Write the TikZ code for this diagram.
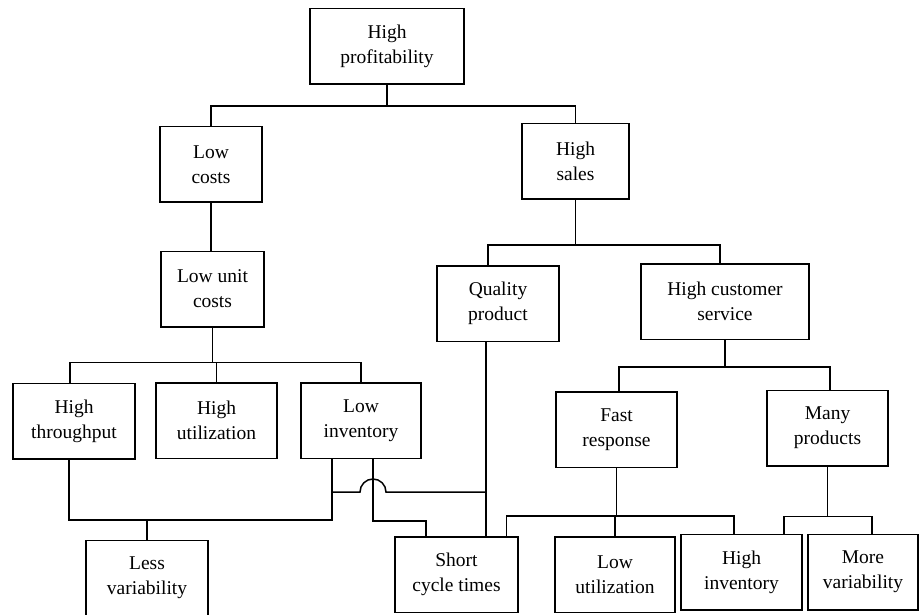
\documentclass[tikz,border=0pt]{standalone}
\usepackage{fontspec}
\setmainfont{Liberation Serif}
\begin{document}
\begin{tikzpicture}[x=1pt, y=-1pt, line width=1.5pt,
	box/.style={draw, align=center, inner sep=0pt, minimum width=#1, minimum height=75.5pt},
	box/.default=121pt,
	font=\fontsize{19.5}{25}\selectfont]
\useasboundingbox (0,0) rectangle (919,615);

\node [box=154pt] (prof)     at (387,46.5)   {High\\profitability};
\node [box=102pt] (lowcost)  at (211,164.5)  {Low\\costs};
\node [box=107pt] (sales)    at (575.5,161.5) {High\\sales};
\node [box=103pt] (unitcost) at (212.5,289)  {Low unit\\costs};
\node [box=122pt] (thru)     at (74,421)     {High\\throughput};
\node [box]       (util)     at (216.5,420.5) {High\\utilization};
\node [box=120pt] (lowinv)   at (361,420.5)  {Low\\inventory};
\node [box=122pt] (lessvar)  at (147,578)    {Less\\variability};
\node [box=122pt] (quality)  at (498,303.5)  {Quality\\product};
\node [box=168pt] (service)  at (725,301.5)  {High customer\\service};
\node [box]       (fast)     at (616.5,429.5) {Fast\\response};
\node [box]       (many)     at (827.5,428)  {Many\\products};
\node [box=123pt] (short)    at (456.5,574.5) {Short\\cycle times};
\node [box=120pt] (lowutil)  at (615,574.5)  {Low\\utilization};
\node [box]       (hiinv)    at (741.5,572)  {High\\inventory};
\node [box=110pt] (morevar)  at (863,572)    {More\\variability};

\draw (prof.south) -- ++(0,21) coordinate (top);
\draw (lowcost.north) |- (top) -| (sales.north);
\draw (lowcost.south) -- (lowcost.south |- unitcost.north);

\draw (unitcost.south) -- ++(0,35) coordinate (cost);
\draw ([xshift=-4pt]thru.north) |- (cost) -| (lowinv.north);
\draw (util.north) -- (util.north |- cost);

\draw (sales.south) -- ++(0,45) coordinate (sell);
\draw ([xshift=-10pt]quality.north) |- (sell) -| ([xshift=-5pt]service.north);

\draw (service.south) -- ++(0,27) coordinate (serv);
\draw ([xshift=2.5pt]fast.north) |- (serv) -| ([xshift=2.5pt]many.north);

\draw (fast.south) -- ++(0,48) coordinate (resp);
\draw ([xshift=50pt]short.north) |- (resp) -| ([xshift=-7.5pt]hiinv.north);
\draw (lowutil.north) -- (lowutil.north |- resp);

\draw (many.south) -- ++(0,50) coordinate (prod);
\draw ([xshift=42.5pt]hiinv.north) |- (prod) -| ([xshift=9pt]morevar.north);

\coordinate (mix) at (147,520);
\coordinate (hop) at (0,492);
\draw ([xshift=-12pt]quality.south) -- ([xshift=-12pt]quality.south |- short.north);
\coordinate (join) at ([xshift=-12pt]quality.south |- hop);
\draw ([xshift=-5pt]thru.south) |- (mix) -| ([xshift=-29pt]lowinv.south);
\draw (lessvar.north) -- (mix);
\draw ([xshift=-29pt]lowinv.south |- hop) -- ++(28,0) arc [start angle=180, end angle=0, radius=13pt] -- (join);
\draw ([xshift=12pt]lowinv.south) -- ++(0,62) -| ([xshift=-30.5pt]short.north);
\end{tikzpicture}
\end{document}
